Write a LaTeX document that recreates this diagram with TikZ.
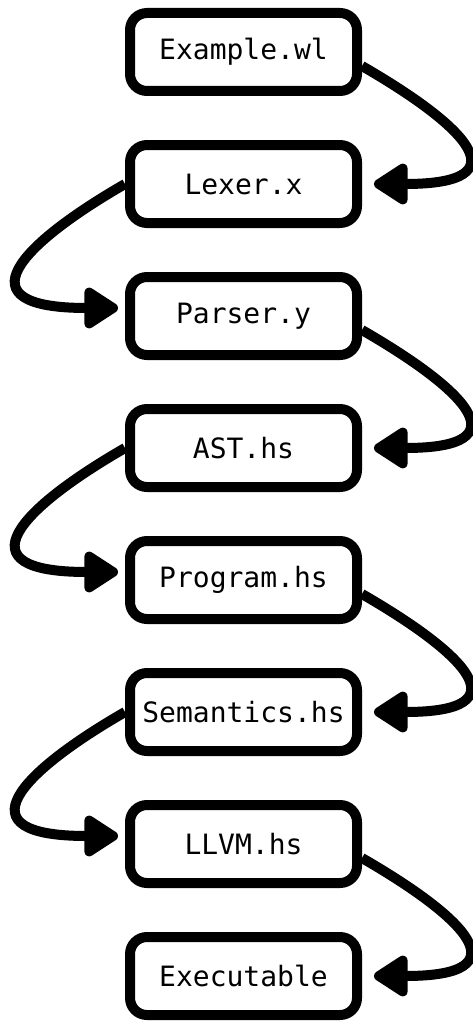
\documentclass[tikz,border=0pt]{standalone}
\usepackage{fontspec}
\setmonofont{DejaVu Sans Mono}
\usetikzlibrary{positioning,arrows.meta}

\tikzset{
  filebox/.style={draw, line width=10pt, rounded corners=17pt,
    minimum width=227pt, minimum height=78pt, font=\fontsize{28}{30}\selectfont\ttfamily},
  flow/.style={line width=10pt, -{Triangle[length=38pt,width=46pt,round]}}
}

\begin{document}
\begin{tikzpicture}[x=1pt,y=1pt]
    \useasboundingbox (0,0) rectangle (473,-1022);

    % Files
    \node[filebox] (example) at (243.5,-52) {Example.wl};
    \node[filebox, below=44pt of example] (lexer) {Lexer.x};
    \node[filebox, below=44pt of lexer] (parser) {Parser.y};
    \node[filebox, below=44pt of parser] (ast) {AST.hs};
    \node[filebox, below=44pt of ast] (program) {Program.hs};
    \node[filebox, below=44pt of program] (semantics) {Semantics.hs};
    \node[filebox, below=44pt of semantics] (llvm) {LLVM.hs};
    \node[filebox, below=44pt of llvm] (exec) {Executable};

    % Right hand loops
    \draw[flow] ([yshift=-14pt]example.east) .. controls +(-30:120) and +(150,0) .. ([xshift=12pt]lexer.east);
    \draw[flow] ([yshift=-14pt]parser.east) .. controls +(-30:120) and +(150,0) .. ([xshift=12pt]ast.east);
    \draw[flow] ([yshift=-14pt]program.east) .. controls +(-30:120) and +(150,0) .. ([xshift=12pt]semantics.east);
    \draw[flow] ([yshift=-14pt]llvm.east) .. controls +(-30:120) and +(150,0) .. ([xshift=12pt]exec.east);

    % Left hand loops
    \draw[flow] (lexer.west) .. controls +(210:120) and +(-160,0) .. ([shift={(-7pt,8pt)}]parser.west);
    \draw[flow] (ast.west) .. controls +(210:120) and +(-160,0) .. ([shift={(-7pt,8pt)}]program.west);
    \draw[flow] (semantics.west) .. controls +(210:120) and +(-160,0) .. ([shift={(-7pt,8pt)}]llvm.west);
\end{tikzpicture}
\end{document}
